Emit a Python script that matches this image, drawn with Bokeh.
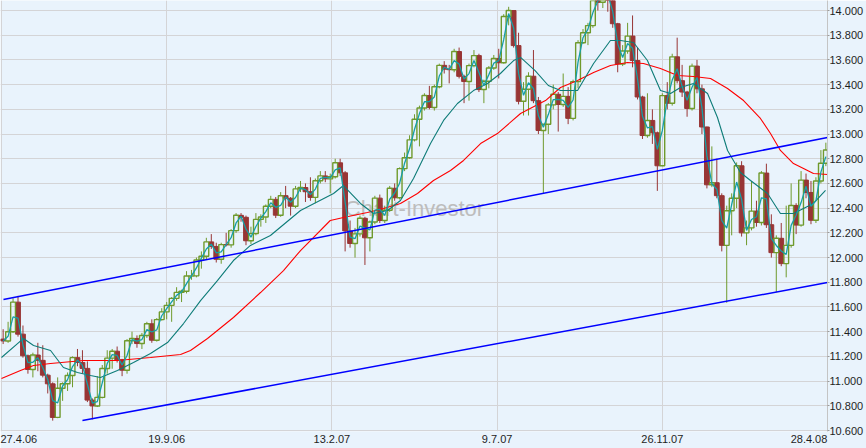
import pandas as pd
from bokeh.plotting import figure
from bokeh.models import ColumnDataSource, Range1d, FixedTicker
from bokeh.embed import file_html
from bokeh.resources import INLINE
from bokeh.core.properties import value

# ---------------- data ----------------
STEP = 3  # trading days per drawn candle

open_ = [11340, 11325, 11400, 11639, 11380, 11205, 11094, 11211, 11168, 11048,
         10978, 10706, 10942, 10979, 11045, 11190, 11151, 11103, 10846, 10799,
         10868, 11102, 11186, 11242, 11173, 11088, 11327, 11345, 11304, 11369,
         11464, 11331, 11498, 11560, 11613, 11670, 11718, 11727, 11851, 11852,
         11980, 12011, 12127, 12090, 11986, 12105, 12103, 12218, 12342, 12326,
         12136, 12194, 12309, 12328, 12416, 12471, 12343, 12501, 12480, 12416,
         12556, 12567, 12533, 12487, 12622, 12661, 12637, 12654, 12767, 12686,
         12216, 12114, 12192, 12318, 12160, 12288, 12481, 12300, 12383, 12561,
         12484, 12720, 12808, 12953, 13120, 13211, 13312, 13215, 13383, 13556,
         13525, 13521, 13668, 13467, 13425, 13554, 13635, 13360, 13427, 13535,
         13612, 13577, 13951, 14000, 13716, 13265, 13362, 13468, 13270, 13029,
         13079, 13236, 13322, 13239, 13305, 13127, 13424, 13739, 13820, 13878,
         14088, 14066, 14165, 14093, 13893, 13567, 13672, 13793, 13595, 13300,
         12988, 13110, 13010, 12743, 13311, 13249, 13625, 13432, 13340, 13207,
         13550, 13366, 13057, 12589, 12606, 12501, 12099, 12379, 12480, 12743,
         12200, 12240, 12376, 12284, 12684, 12266, 12040, 12156, 11951, 12099,
         12422, 12263, 12627, 12527, 12302, 12620, 12763]
high = [11420, 11480, 11670, 11690, 11450, 11215, 11230, 11310, 11290, 11060,
        10990, 11030, 10990, 11070, 11200, 11260, 11250, 11160, 10860, 11040,
        11130, 11250, 11260, 11280, 11180, 11340, 11400, 11370, 11390, 11480,
        11500, 11510, 11590, 11640, 11680, 11760, 11740, 11890, 11900, 12000,
        12050, 12160, 12190, 12120, 12120, 12200, 12230, 12360, 12360, 12340,
        12250, 12360, 12350, 12430, 12500, 12490, 12530, 12580, 12490, 12580,
        12620, 12600, 12650, 12640, 12700, 12700, 12680, 12800, 12800, 12700,
        12300, 12240, 12340, 12330, 12300, 12500, 12510, 12420, 12580, 12600,
        12730, 12850, 12990, 13160, 13230, 13330, 13390, 13400, 13570, 13590,
        13560, 13690, 13700, 13480, 13570, 13680, 13650, 13440, 13550, 13640,
        13690, 13970, 14030, 14000, 13820, 13420, 13500, 13680, 13300, 13080,
        13250, 13400, 13340, 13490, 13380, 13440, 13760, 13850, 13900, 14100,
        14120, 14200, 14170, 14100, 13900, 13720, 13900, 13960, 13700, 13310,
        13330, 13200, 13020, 13330, 13420, 13650, 13780, 13560, 13350, 13570,
        13600, 13400, 13060, 12900, 12800, 12520, 12420, 12520, 12770, 12780,
        12300, 12620, 12460, 12700, 12760, 12350, 12180, 12280, 12420, 12600,
        12440, 12700, 12680, 12620, 12650, 12870, 12930]
low = [11300, 11310, 11390, 11360, 11190, 11060, 11030, 11080, 11030, 10900,
       10680, 10700, 10840, 10920, 10950, 11120, 11060, 10830, 10690, 10790,
       10860, 11060, 11100, 11150, 11040, 11060, 11300, 11270, 11260, 11350,
       11310, 11320, 11490, 11500, 11480, 11650, 11640, 11710, 11820, 11840,
       11910, 11980, 12070, 11960, 11950, 12090, 12080, 12200, 12290, 12100,
       12110, 12180, 12250, 12280, 12400, 12320, 12330, 12400, 12340, 12400,
       12530, 12450, 12460, 12440, 12600, 12610, 12520, 12640, 12660, 12050,
       12080, 12000, 12170, 11940, 12050, 12270, 12280, 12280, 12370, 12460,
       12470, 12700, 12800, 12940, 12900, 13190, 13200, 13190, 13370, 13490,
       13410, 13500, 13450, 13250, 13270, 13540, 13340, 13250, 13370, 13520,
       13450, 13570, 13880, 13700, 13240, 13150, 13150, 13250, 13000, 12520,
       13000, 13200, 13020, 13220, 13080, 13110, 13370, 13730, 13720, 13860,
       14000, 14020, 13990, 13860, 13500, 13550, 13650, 13540, 13280, 12960,
       12970, 12920, 12540, 12740, 13200, 13230, 13410, 13300, 13140, 13190,
       13330, 13000, 12560, 12570, 12480, 12050, 11634, 12180, 12400, 12170,
       12100, 12220, 12250, 12260, 12240, 12000, 11720, 11930, 11840, 12080,
       12190, 12250, 12480, 12270, 12280, 12600, 12740]
close = [11325, 11400, 11639, 11380, 11205, 11094, 11211, 11168, 11048, 10978,
         10706, 10942, 10979, 11045, 11190, 11151, 11103, 10846, 10799, 10868,
         11102, 11186, 11242, 11173, 11088, 11327, 11345, 11304, 11369, 11464,
         11331, 11498, 11560, 11613, 11670, 11718, 11727, 11851, 11852, 11980,
         12011, 12127, 12090, 11986, 12105, 12103, 12218, 12342, 12326, 12136,
         12194, 12309, 12328, 12416, 12471, 12343, 12501, 12480, 12416, 12556,
         12567, 12533, 12487, 12622, 12661, 12637, 12654, 12767, 12686, 12216,
         12114, 12192, 12318, 12160, 12288, 12481, 12300, 12383, 12561, 12484,
         12720, 12808, 12953, 13120, 13211, 13312, 13215, 13383, 13556, 13525,
         13521, 13668, 13467, 13425, 13554, 13635, 13360, 13427, 13535, 13612,
         13577, 13951, 14000, 13716, 13265, 13362, 13468, 13270, 13029, 13079,
         13236, 13322, 13239, 13305, 13127, 13424, 13739, 13820, 13878, 14088,
         14066, 14165, 14093, 13893, 13567, 13672, 13793, 13595, 13300, 12988,
         13110, 13010, 12743, 13311, 13249, 13625, 13432, 13340, 13207, 13550,
         13366, 13057, 12589, 12606, 12501, 12099, 12379, 12480, 12743, 12200,
         12240, 12376, 12284, 12684, 12266, 12040, 12156, 11951, 12099, 12422,
         12263, 12627, 12527, 12302, 12620, 12763, 12871]

# slow moving averages (bar index, value)
ma200_x = [0, 11.5, 19.4, 29.7, 49.6, 70.2, 90.2, 108.4, 114.4, 124.7, 140.4,
           156.8, 170.7, 181, 199, 207, 221.5, 231.2, 241.5, 251.8, 261.5,
           271.8, 279.7, 290, 300.2, 314.2, 329.3, 338.4, 348.7, 358.4, 368.6,
           378.9, 388.6, 398.9, 409.2, 418.9, 429.2, 439.5, 449.2, 459.4,
           465.5, 471.5, 479.4, 485.5, 491.5, 500]
ma200_y = [11021, 11086, 11126, 11142, 11167, 11167, 11191, 11215, 11248, 11345,
           11515, 11717, 11895, 12057, 12300, 12324, 12365, 12397, 12438, 12519,
           12624, 12705, 12786, 12923, 13004, 13166, 13271, 13377, 13433, 13498,
           13555, 13579, 13571, 13530, 13474, 13466, 13450, 13369, 13271, 13126,
           13004, 12867, 12761, 12721, 12680, 12672]
ma38_x = [0, 9.7, 13.3, 19.4, 29.7, 37.5, 46, 53.9, 59.9, 70.2, 79.9, 90.2,
          100.5, 110.2, 120.5, 130.7, 140.4, 150.7, 162.8, 181, 201, 207,
          217.3, 225.2, 233.7, 241.5, 249.4, 259.7, 267.6, 276, 285.7, 294.2,
          302, 310, 314.2, 323, 331, 338.4, 348.7, 358.4, 368.6, 374.7, 382.6,
          391, 398.9, 405, 411, 418.9, 427.4, 433.4, 439.5, 447.3, 453.4,
          463.7, 471.5, 479.4, 491.5, 498.8]
ma38_y = [11191, 11304, 11345, 11288, 11248, 11110, 11070, 11045, 11029, 11086,
          11150, 11223, 11312, 11466, 11652, 11814, 11976, 12098, 12179, 12381,
          12519, 12583, 12438, 12357, 12381, 12462, 12640, 12923, 13110, 13247,
          13352, 13409, 13490, 13595, 13620, 13514, 13393, 13352, 13352, 13571,
          13757, 13757, 13741, 13595, 13352, 13328, 13377, 13409, 13328, 13134,
          12867, 12689, 12624, 12519, 12357, 12357, 12438, 12543]

# trend channel end points (bar index, value)
upper_x = [1.2, 500]
upper_y = [11660, 12972]
lower_x = [49, 500]
lower_y = [10681, 11798]

date_ticks = [0, 100, 200, 300, 400, 500]
date_labels = ["27.4.06", "19.9.06", "13.2.07", "9.7.07", "26.11.07", "28.4.08"]
price_ticks = list(range(10600, 14001, 200))
price_labels = ["10.600", "10.800", "11.000", "11.200", "11.400", "11.600",
                "11.800", "12.000", "12.200", "12.400", "12.600", "12.800",
                "13.000", "13.200", "13.400", "13.600", "13.800", "14.000"]

# ---------------- layout / styling ----------------
BG = "#e9f3fc"
GRID = "#d4d4d6"
UP = "#6f9a2c"
DOWN = "#983535"
FAST = "#169fa6"
SLOW = "#0e7c78"
FONT = "Liberation Sans"
TXT = "#1e1e1e"
# where the first / last date text sits (the edge labels are kept inside the frame)
label_shift = [10.3, 0, 0, 0, 0, -11.2]

df = pd.DataFrame(dict(open=open_, high=high, low=low, close=close))
df["x"] = df.index * STEP + 1
df["top"] = df[["open", "close"]].max(axis=1)
df["bottom"] = df[["open", "close"]].min(axis=1)
df["fast"] = df["close"].rolling(2, min_periods=1).mean()
up = ColumnDataSource(df[df.close >= df.open])
dn = ColumnDataSource(df[df.close < df.open])

p = figure(width=866, height=448, output_backend="svg", toolbar_location=None,
           x_range=Range1d(-0.6, 500.0), y_range=Range1d(10592, 14081),
           y_axis_location="right", min_border_left=0, min_border_top=0,
           min_border_bottom=17, min_border_right=39,
           background_fill_color=BG, border_fill_color=BG,
           outline_line_color=None)

p.xgrid.ticker = FixedTicker(ticks=date_ticks)
p.ygrid.ticker = FixedTicker(ticks=price_ticks)
p.grid.grid_line_color = GRID
p.grid.grid_line_width = 1

# bottom axis: only the date texts
xa = p.xaxis[0]
label_pos = [t + s for t, s in zip(date_ticks, label_shift)]
xa.ticker = FixedTicker(ticks=label_pos)
xa.major_label_overrides = {pos: lab for pos, lab in zip(label_pos, date_labels)}
xa.major_tick_in = 0
xa.major_tick_out = 0
xa.minor_tick_in = 0
xa.minor_tick_out = 0
xa.axis_line_color = None
xa.major_label_standoff = 3
xa.major_label_text_font = FONT
xa.major_label_text_font_size = "11px"
xa.major_label_text_color = TXT

# right price axis
ax = p.yaxis[0]
ax.ticker = FixedTicker(ticks=price_ticks)
ax.major_label_overrides = {t: l for t, l in zip(price_ticks, price_labels)}
ax.major_label_text_font = FONT
ax.major_label_text_font_size = "11px"
ax.major_label_text_color = TXT
ax.axis_line_color = "#c4c4c4"
ax.major_tick_in = 0
ax.major_tick_out = 2
ax.minor_tick_out = 0
ax.minor_tick_in = 0
ax.major_tick_line_color = "#9a9a9a"
ax.major_label_standoff = 0

# watermark (behind everything)
p.text(x=[250], y=[12400], text=["Chart-Investor"], text_align="center",
       text_baseline="middle", text_font=value(FONT), text_font_size="22px",
       text_color="#bdbdbd")

# down candles (filled)
p.segment(x0="x", y0="low", x1="x", y1="high", source=dn, line_color=DOWN, line_width=1)
p.vbar(x="x", width=2.9, top="top", bottom="bottom", source=dn,
       fill_color=DOWN, line_color=DOWN, line_width=1)
# up candles (hollow)
p.segment(x0="x", y0="top", x1="x", y1="high", source=up, line_color=UP, line_width=1)
p.segment(x0="x", y0="low", x1="x", y1="bottom", source=up, line_color=UP, line_width=1)
p.vbar(x="x", width=2.9, top="top", bottom="bottom", source=up,
       fill_alpha=0, line_color=UP, line_width=1.4)

# moving averages
p.line(ma200_x, ma200_y, line_color="#ff0000", line_width=1.1)
p.line(ma38_x, ma38_y, line_color=SLOW, line_width=1.1)
p.line(x="x", y="fast", source=ColumnDataSource(df), line_color=FAST, line_width=1.3)

# trend channel
p.line(upper_x, upper_y, line_color="#0000ff", line_width=1.5)
p.line(lower_x, lower_y, line_color="#0000ff", line_width=1.5)

open("out.html", "w").write(file_html(p, INLINE))
